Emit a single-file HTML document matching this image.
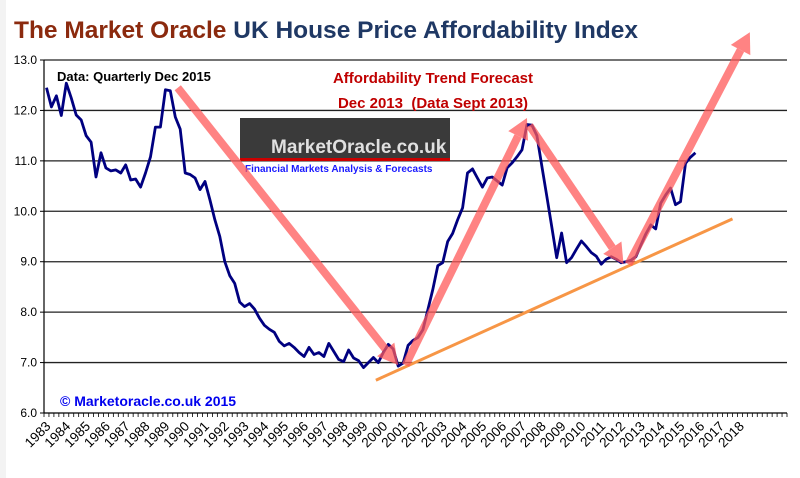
<!DOCTYPE html>
<html><head><meta charset="utf-8">
<style>
html,body{margin:0;padding:0;background:#f3f3f3;}
#wrap{position:relative;width:800px;height:478px;overflow:hidden;}
svg{position:absolute;left:0;top:0;}
text{font-family:"Liberation Sans",Arial,sans-serif;}
</style></head>
<body>
<div id="wrap">
<svg id="chart" width="800" height="478">
  <rect x="6" y="0" width="794" height="478" fill="#ffffff"/>
  <text x="14" y="38" font-size="24.5" font-weight="bold"><tspan fill="#8B2A0E">The Market Oracle</tspan><tspan fill="#1F3864"> UK House Price Affordability Index</tspan></text>
  <g id="grid"></g>
  <g id="yaxis"></g>
  <g id="xaxis"></g>
  <text x="57" y="81" font-size="13" font-weight="bold" fill="#000">Data: Quarterly Dec 2015</text>
  <text x="433" y="83" font-size="15" font-weight="bold" fill="#C00000" text-anchor="middle">Affordability Trend Forecast</text>
  <text x="433" y="108" font-size="15" font-weight="bold" fill="#C00000" text-anchor="middle" xml:space="preserve">Dec 2013  (Data Sept 2013)</text>
  <g>
    <rect x="240" y="118" width="210" height="41" fill="#3a3a3a"/>
    <rect x="240" y="158" width="210" height="3" fill="#cc0000"/>
    <text x="271" y="153" font-size="19" font-weight="bold" fill="#e0e0e0">MarketOracle.co.uk</text>
    <text x="245" y="172" font-size="10" font-weight="bold" fill="#1a1aff">Financial Markets Analysis &amp; Forecasts</text>
  </g>
  <path id="series" fill="none" stroke="#000080" stroke-width="2.8" stroke-linejoin="round"/>
  <g id="overlays"></g>
  <text x="60" y="406" font-size="14" font-weight="bold" fill="#0000ee">© Marketoracle.co.uk 2015</text>
</svg>
</div>
<script>
const yTicks = [6,7,8,9,10,11,12,13];
const yearLabels = ["1983","1984","1985","1986","1987","1988","1989","1990","1991","1992","1993","1994","1995","1996","1997","1998","1999","2000","2001","2002","2003","2004","2005","2006","2007","2008","2009","2010","2011","2012","2013","2014","2015","2016","2017","2018"];
const affordability = [12.45,12.07,12.29,11.9,12.54,12.25,11.91,11.81,11.5,11.37,10.68,11.16,10.86,10.8,10.82,10.76,10.92,10.62,10.64,10.48,10.76,11.08,11.67,11.67,12.41,12.39,11.87,11.63,10.76,10.73,10.66,10.43,10.59,10.23,9.83,9.5,9.0,8.72,8.57,8.2,8.11,8.17,8.06,7.88,7.74,7.66,7.6,7.42,7.33,7.38,7.3,7.2,7.12,7.3,7.16,7.2,7.12,7.38,7.22,7.06,7.02,7.25,7.09,7.04,6.9,7.0,7.1,7.0,7.2,7.36,7.27,6.93,6.99,7.34,7.44,7.5,7.65,8.05,8.45,8.92,8.98,9.4,9.56,9.83,10.07,10.76,10.84,10.66,10.48,10.66,10.68,10.6,10.52,10.86,10.96,11.08,11.22,11.72,11.71,11.5,10.9,10.3,9.7,9.08,9.57,8.98,9.08,9.25,9.41,9.3,9.18,9.11,8.95,9.05,9.1,9.05,8.98,9.0,9.03,9.1,9.33,9.55,9.73,9.65,10.16,10.32,10.46,10.13,10.19,10.95,11.07,11.16];
// trend arrows: [startQuarterIndex, startValue, endQuarterIndex, endValue]
const trendArrows = [[26.5,12.45,71,6.95],[72.5,6.95,97,11.85],[97.5,11.7,116.5,8.95],[117.5,8.95,142,13.55]];
const supportLine = [66.5,6.65,138.5,9.85];

const NS="http://www.w3.org/2000/svg";
const L=44,R=787,T=60,B=413,NQ=150,qw=(R-L)/NQ;
const xq=i=>L+qw*(i+0.5);
const yv=v=>B-(v-6)*(B-T)/7;
function mk(tag,attrs,parent){const e=document.createElementNS(NS,tag);for(const k in attrs)e.setAttribute(k,attrs[k]);parent.appendChild(e);return e;}
const grid=document.getElementById('grid'),ya=document.getElementById('yaxis'),xa=document.getElementById('xaxis');
yTicks.forEach(v=>{
  if(v>6){const g=mk('line',{x1:L,x2:R,y1:yv(v),y2:yv(v),stroke:'#222','stroke-width':1.3},grid);
  
  }
  const t=mk('text',{x:37,y:yv(v)+4,'font-size':12,'text-anchor':'end',fill:'#000'},ya);
  t.textContent=v.toFixed(1);
  
  
  const tk=mk('line',{x1:L-4,x2:L,y1:yv(v),y2:yv(v),stroke:'#000'},ya);
  
  
});
const yl=mk('line',{x1:L,x2:L,y1:T,y2:B,stroke:'#000','stroke-width':1.2},ya);


const xl=mk('line',{x1:L,x2:R,y1:B,y2:B,stroke:'#000','stroke-width':1.2},xa);


for(let i=0;i<=NQ;i++){
  const tk=mk('line',{x1:L+qw*i,x2:L+qw*i,y1:B,y2:B+4,stroke:'#000','stroke-width':0.8},xa);
  
  
}
yearLabels.forEach((lab,k)=>{
  const x=xq(k*4)+5,y=B+14;
  const t=mk('text',{x:x,y:y,'font-size':13.5,'text-anchor':'end',fill:'#000',transform:`rotate(-45 ${x} ${y})`},xa);
  t.textContent=lab;
  
  
});
document.getElementById('series').setAttribute('d',affordability.map((v,i)=>(i?'L':'M')+xq(i).toFixed(1)+' '+yv(v).toFixed(1)).join(' '));
const ov=document.getElementById('overlays');
const sl=mk('line',{x1:xq(supportLine[0]),y1:yv(supportLine[1]),x2:xq(supportLine[2]),y2:yv(supportLine[3]),stroke:'#F79646','stroke-width':3},ov);


trendArrows.forEach(a=>{
  const x1=xq(a[0]),y1=yv(a[1]),x2=xq(a[2]),y2=yv(a[3]);
  const dx=x2-x1,dy=y2-y1,len=Math.hypot(dx,dy),ux=dx/len,uy=dy/len,px=-uy,py=ux;
  const hl=20,hw=11,bx=x2-ux*hl,by=y2-uy*hl;
  const g=mk('g',{opacity:0.75},ov);
  
  
  mk('line',{x1:x1,y1:y1,x2:bx,y2:by,stroke:'#FF5A5A','stroke-width':8},g);
  mk('polygon',{points:`${x2},${y2} ${bx+px*hw},${by+py*hw} ${bx-px*hw},${by-py*hw}`,fill:'#FF5A5A'},g);
});
</script>
</body></html>
